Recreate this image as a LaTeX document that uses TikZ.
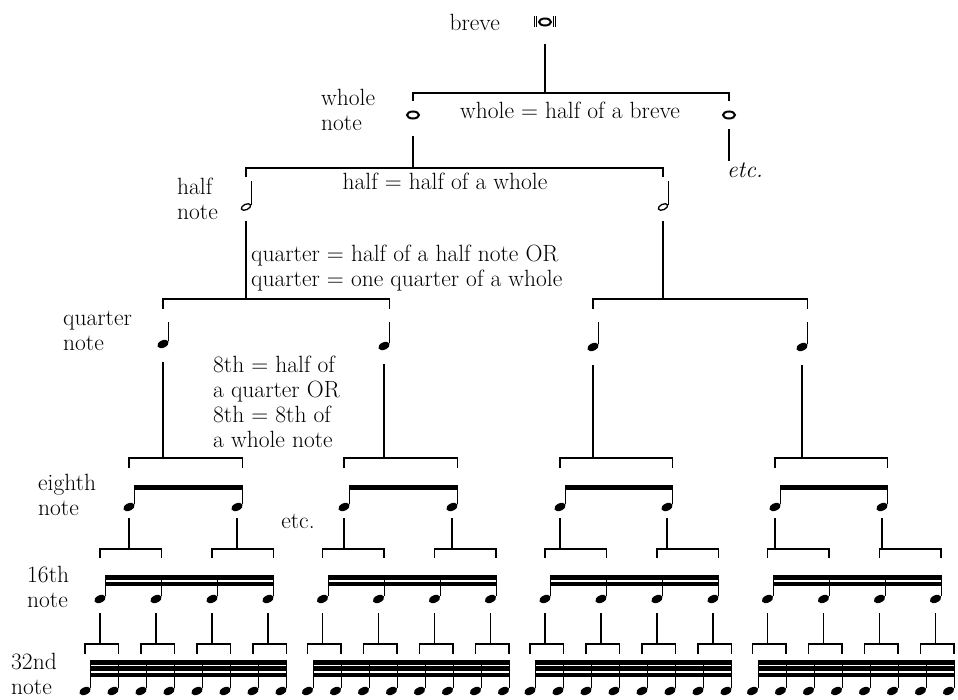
\documentclass[tikz,border=0pt]{standalone}
\usetikzlibrary{shapes.geometric,positioning}
\tikzset{
    every node/.style={font=\fontsize{23.5}{25}\selectfont, inner sep=1pt},
    branch/.style={line width=1.4pt}, % rami dell'albero
    stemline/.style={line width=1pt}, % gambi delle note
    qhead/.style={ellipse, fill, inner sep=0pt, minimum width=12pt, minimum height=7.4pt, rotate=25},
    hhead/.style={ellipse, draw, line width=1.3pt, inner sep=0pt, minimum width=10pt, minimum height=5.5pt, rotate=25},
    whead/.style={ellipse, draw, line width=2pt, inner sep=0pt, minimum width=12pt, minimum height=7pt},
    tag/.style={align=left, anchor=west},
}

\begin{document}
\begin{tikzpicture}[x=1pt, y=-1pt]
    \useasboundingbox (0,0) rectangle (958,700);

    % Breve e semibrevi
    \node[whead] (b) at (545,22) {};
    \foreach \dx in {-3.5,-1.5} \draw[line width=1.3pt] (b.west) ++(\dx,-5.5) -- ++(0,11);
    \foreach \dx in {1.5,3.5} \draw[line width=1.3pt] (b.east) ++(\dx,-5.5) -- ++(0,11);
    \node (bl) [left=37pt of b] {breve};
    \node[whead] (w1) at (413,115) {};
    \node[whead] (w2) at (729,115) {};
    \node[tag] (wl) at (320,110) {whole\\note};
    \node (wt) at (570,110) {whole = half of a breve};
    \node (etc1) at (745,170) {\textit{etc.}};

    % Minime
    \node[hhead] (h1) at (246,207) {};
    \node[hhead] (h2) at (663,207) {};
    \draw[stemline] (h1.east) -- (h1.east |- 0,181);
    \draw[stemline] (h2.east) -- (h2.east |- 0,181);
    \node[tag] (hl) at (176,199) {half\\note};
    \node (ht) at (445,181) {half = half of a whole};

    % Semiminime
    \foreach \x/\y [count=\i] in {163/344,384/346,593/347,802/347}{
        \node[qhead] (q\i) at (\x,\y) {};
        \draw[stemline] (q\i.east) -- (q\i.east |- 0,322);
    }
    \node[tag] (ql) at (62,331) {quarter\\note};
    \node[tag] (qt) at (250,268) {quarter = half of a half note OR\\quarter = one quarter of a whole};
    \node[tag] (et) at (212,402) {8th = half of\\a quarter OR\\8th = 8th of\\a whole note};

    % Crome
    \foreach \x [count=\i] in {129,237,344,452,560,667,775,882}{
        \node[qhead] (e\i) at (\x,507) {};
        \draw[stemline] (e\i.east) -- (e\i.east |- 0,485);
    }
    \foreach \i/\j in {1/2,3/4,5/6,7/8}
        \fill (e\i.east |- 0,485) rectangle (e\j.east |- 0,490);
    \node[tag] (el) at (37,495) {eighth\\note};
    \node (etc2) at (298,521) {etc.};

    % Semicrome
    \foreach \k in {0,...,3}{
        \foreach \j in {0,...,3}{
            \pgfmathtruncatemacro\n{4*\k+\j+1}
            \node[qhead] (s\n) at ({100+222.5*\k+56*\j},599) {};
            \draw[stemline] (s\n.east) -- (s\n.east |- 0,575);
        }
        \pgfmathtruncatemacro\ia{4*\k+1}
        \pgfmathtruncatemacro\ib{4*\k+4}
        \foreach \ya/\yb in {575/579.5,581.5/586}
            \fill (s\ia.east |- 0,\ya) rectangle (s\ib.east |- 0,\yb);
    }
    \node[tag] (sl) at (26,587) {16th\\note};

    % Biscrome
    \foreach \k in {0,...,3}{
        \foreach \j in {0,...,7}{
            \pgfmathtruncatemacro\n{8*\k+\j+1}
            \node[qhead] (t\n) at ({85+222.5*\k+28*\j},691) {};
            \draw[stemline] (t\n.east) -- (t\n.east |- 0,660);
        }
        \pgfmathtruncatemacro\ia{8*\k+1}
        \pgfmathtruncatemacro\ib{8*\k+8}
        \foreach \ya/\yb in {660/664.5,666.2/670.7,672.5/677}
            \fill (t\ia.east |- 0,\ya) rectangle (t\ib.east |- 0,\yb);
    }
    \node[tag] (tl) at (10,674) {32nd\\note};

    % Rami
    \draw[branch] (b) ++(0,22) -- (b |- 0,93);
    \draw[branch] (w1 |- 0,101) -- (w1 |- 0,93) -- (w2 |- 0,93) -- (w2 |- 0,101);
    \draw[branch] (w2) ++(0,14) -- (w2 |- etc1.north);
    \draw[branch] (w1) ++(0,21) -- (w1 |- 0,168);
    \draw[branch] (h1 |- 0,177) -- (h1 |- 0,168) -- (h2 |- 0,168) -- (h2 |- 0,177);
    \foreach \p/\c/\d in {h1/q1/q2,h2/q3/q4}{
        \draw[branch] (\p) ++(0,14) -- (\p |- 0,299);
        \draw[branch] (\c |- 0,309) -- (\c |- 0,299) -- (\d.east |- 0,299) -- (\d.east |- 0,309);
    }
    \foreach \p/\c/\d in {q1/e1/e2,q2/e3/e4,q3/e5/e6,q4/e7/e8}{
        \draw[branch] (\p) ++(0,18) -- (\p |- 0,458);
        \draw[branch] (\c |- 0,468) -- (\c |- 0,458) -- (\d.east |- 0,458) -- (\d.east |- 0,468);
    }
    \foreach \i in {1,...,8}{
        \pgfmathtruncatemacro\ia{2*\i-1}
        \pgfmathtruncatemacro\ib{2*\i}
        \draw[branch] (e\i) ++(0,11) -- (e\i |- 0,549);
        \draw[branch] (s\ia |- 0,558) -- (s\ia |- 0,549) -- (s\ib.east |- 0,549) -- (s\ib.east |- 0,558);
    }
    \foreach \i in {1,...,16}{
        \pgfmathtruncatemacro\ia{2*\i-1}
        \pgfmathtruncatemacro\ib{2*\i}
        \draw[branch] (s\i) ++(0,14) -- (s\i |- 0,644);
        \draw[branch] (t\ia |- 0,654) -- (t\ia |- 0,644) -- (t\ib.east |- 0,644) -- (t\ib.east |- 0,654);
    }
\end{tikzpicture}
\end{document}
